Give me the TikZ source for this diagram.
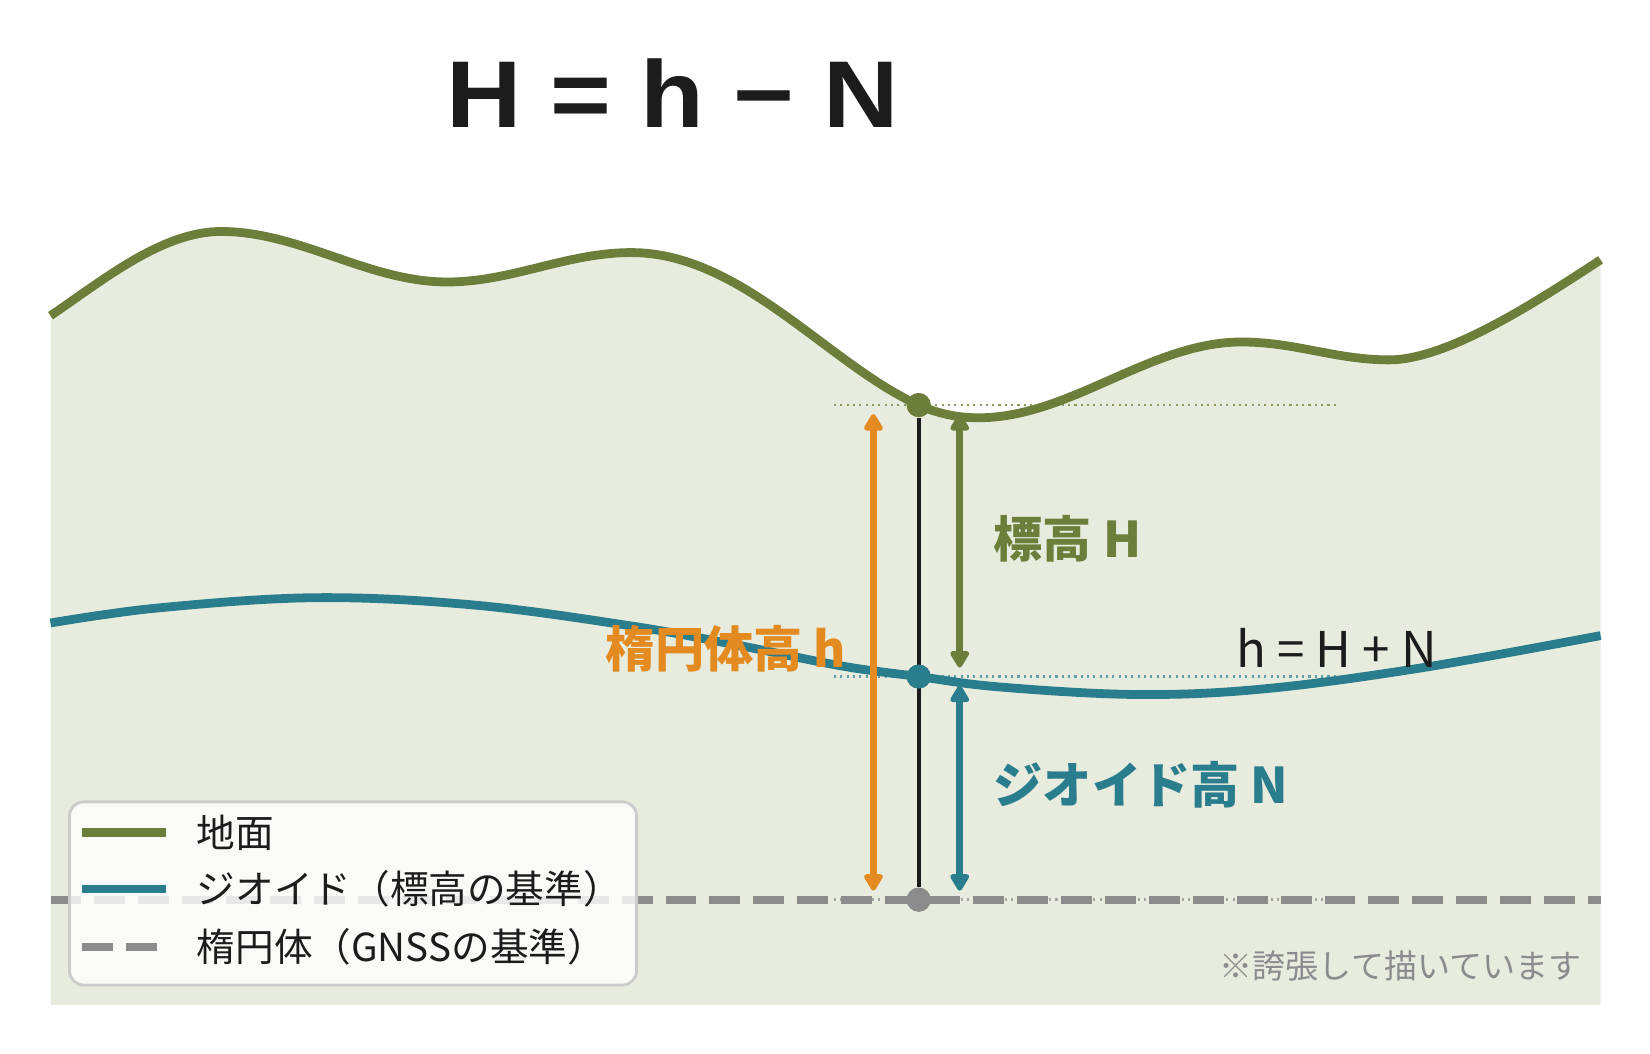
\documentclass[tikz,border=0pt]{standalone}
\usepackage{fontspec}
\setmainfont{Noto Sans CJK JP}
\newfontfamily\eqfont[FakeStretch=1.1]{Liberation Sans}
\usepackage{xcolor}
\usetikzlibrary{arrows.meta}

\definecolor{grd}{RGB}{108,126,58}
\definecolor{geo}{RGB}{42,125,140}
\definecolor{org}{RGB}{227,138,32}
\definecolor{ell}{RGB}{140,140,140}
\definecolor{land}{RGB}{232,236,223}
\definecolor{ink}{RGB}{28,28,28}

\def\groundline{(0.505,7.383) .. controls (1.005,7.718) and (1.61,8.225) .. (2.21,8.225)
    .. controls (3.0,8.225) and (3.68,7.72) .. (4.472,7.72)
    .. controls (5.12,7.72) and (5.66,8.014) .. (6.314,8.014)
    .. controls (7.414,8.014) and (8.287,6.894) .. (9.187,6.489)
    .. controls (9.387,6.399) and (9.586,6.362) .. (9.786,6.362)
    .. controls (10.7,6.362) and (11.5,7.12) .. (12.417,7.12)
    .. controls (12.95,7.12) and (13.36,6.941) .. (13.89,6.941)
    .. controls (14.49,6.941) and (15.406,7.551) .. (16.006,7.941)}
\def\geoidline{plot[smooth,tension=0.6] coordinates {(0.505,4.31) (1.578,4.46) (3.157,4.563) (4.735,4.49) (6.314,4.28) (7.366,4.09) (8.418,3.88) (9.187,3.774) (9.997,3.67) (11.365,3.595) (12.628,3.65) (14.206,3.86) (16.006,4.184)}}

\begin{document}
\begin{tikzpicture}[
        dot/.style={shape=circle, inner sep=0pt, minimum size=0.24cm, fill},
        lvl/.style={line width=2.5pt},
        ellline/.style={line width=2.3pt, ell, dash pattern=on 8.8pt off 3.7pt},
        guide/.style={line width=0.8pt, dash pattern=on 0.6pt off 1.2pt},
        harrow/.style={line width=2pt, {Triangle[length=5.4pt,width=6pt,round]}-{Triangle[length=5.4pt,width=6pt,round]}, shorten <=0.09cm, shorten >=0.09cm},
        lbl/.style={inner sep=0pt, font=\bfseries\fontsize{14pt}{16pt}\selectfont},
        leg/.style={inner sep=0pt, anchor=west, text=ink, font=\fontsize{11pt}{13pt}\selectfont}]
    \useasboundingbox (0,0) rectangle (16.5,10.54);
    \fill[white] (0,0) rectangle (16.5,10.54);

    \node[inner sep=0pt, text=ink, font=\eqfont\bfseries\fontsize{27pt}{30pt}\selectfont] (ttl) at (6.728,9.61) {H = h − N};

    \fill[land] \groundline -- (16.006,0.49) -- (0.505,0.49) -- cycle;

    \draw[guide, grd!75!land] (8.34,6.489) -- (13.36,6.489);
    \draw[guide, geo!70!land] (8.34,3.774) -- (13.36,3.774);
    \draw[guide, ell!75!land] (8.34,1.543) -- (13.36,1.543);

    \draw[ellline] (0.505,1.543) -- (16.006,1.543);
    \draw[lvl, geo] \geoidline;
    \draw[lvl, grd] \groundline;

    \node[dot, grd] (pG) at (9.187,6.489) {};
    \node[dot, geo] (pN) at (9.187,3.774) {};
    \node[dot, ell] (pE) at (9.187,1.543) {};
    \coordinate (oX) at (8.734,0);
    \coordinate (rX) at (9.597,0);

    \draw[line width=1.1pt, ink] (pG) -- (pE);
    \draw[harrow, org] (pG -| oX) -- (pE -| oX);
    \draw[harrow, grd] (pG -| rX) -- (pN -| rX);
    \draw[harrow, geo] (pN -| rX) -- (pE -| rX);
    \node[dot, grd] at (pG) {};
    \node[dot, geo] at (pN) {};
    \node[dot, ell] at (pE) {};

    \node[lbl, text=grd, anchor=west] (lH) at (9.93,5.155) {標高 H};
    \node[lbl, text=geo, anchor=west] (lN) at (9.93,2.69) {ジオイド高 N};
    \node[lbl, text=org, anchor=east] (lh) at (8.47,4.05) {楕円体高 h};
    \node[inner sep=0pt, anchor=west, text=ink, font=\fontsize{14pt}{16pt}\selectfont] (eq) at (12.36,4.06) {h = H + N};
    \node[inner sep=0pt, anchor=east, text=ell, font=\fontsize{9.4pt}{11pt}\selectfont] (nt) at (15.82,0.88) {※誇張して描いています};

    \draw[black!20, fill=white, fill opacity=0.8, line width=0.8pt, rounded corners=4pt] (0.695,0.69) rectangle (6.366,2.521);
    \draw[lvl, grd] (0.82,2.213) -- (1.66,2.213);
    \draw[lvl, geo] (0.82,1.65) -- (1.66,1.65);
    \draw[ellline] (0.82,1.073) -- (1.66,1.073);
    \node[leg] (lg1) at (1.96,2.213) {地面};
    \node[leg] (lg2) at (1.96,1.65) {ジオイド（標高の基準）};
    \node[leg] (lg3) at (1.96,1.073) {楕円体（GNSSの基準）};
\end{tikzpicture}
\end{document}
